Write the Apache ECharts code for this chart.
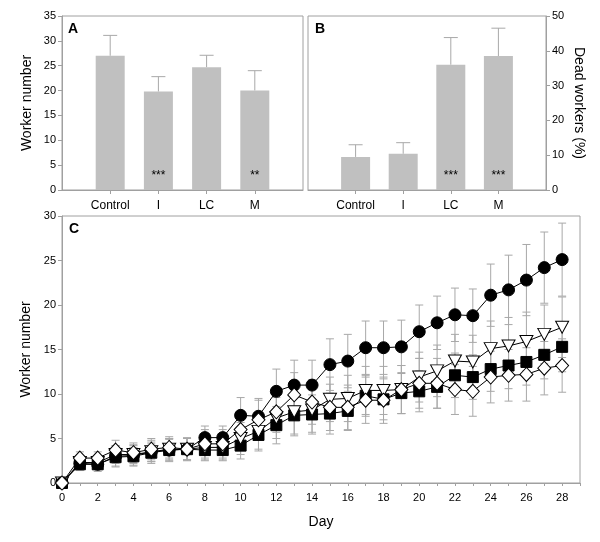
<!DOCTYPE html>
<html><head><meta charset="utf-8">
<script src="https://cdn.jsdelivr.net/npm/echarts@6/dist/echarts.min.js"></script>
<style>html,body{margin:0;padding:0;background:#fff}#c{width:600px;height:542px}</style>
</head><body><div id="c"></div>
<script>
// Panel A & B categories
var groups = ['', 'Control', 'I', 'LC', 'M', ''];
var workersA = ['-', 27.0, 19.8, 24.7, 20.0, '-'];
var workersAErrTop = ['-', 31.1, 22.8, 27.1, 24.0, '-'];
var starsA = ['', '', '***', '', '**', ''];
var deadB = ['-', 9.5, 10.4, 36.0, 38.5, '-'];
var deadBErrTop = ['-', 13.0, 13.6, 43.8, 46.5, '-'];
var starsB = ['', '', '', '***', '***', ''];

// Panel C
var days = [0,1,2,3,4,5,6,7,8,9,10,11,12,13,14,15,16,17,18,19,20,21,22,23,24,25,26,27,28];
var circleVals = [0,2.2,2.1,3.0,3.1,3.5,3.7,3.8,5.1,5.1,7.6,7.5,10.3,11.0,11.0,13.3,13.7,15.2,15.2,15.3,17.0,18.0,18.9,18.8,21.1,21.7,22.8,24.2,25.1];
var circleErr  = [0,0.8,0.8,1.2,1.2,1.3,1.3,1.3,1.3,1.3,2.0,2.0,2.5,2.8,2.8,2.9,3.0,3.0,3.0,3.0,3.0,3.0,3.0,3.0,3.5,3.9,4.0,4.0,4.1];
var triVals = [0,2.3,2.3,3.2,3.2,3.5,3.8,3.8,4.0,4.0,5.0,5.8,7.3,8.0,8.2,9.4,9.5,10.4,10.4,10.5,11.9,12.6,13.7,13.6,15.1,15.4,15.9,16.7,17.5];
var triErr  = [0,0.7,0.7,1.0,1.0,1.1,1.2,1.2,1.4,1.4,1.8,2.0,2.3,2.5,2.5,2.5,2.6,2.7,2.7,2.7,2.8,2.9,3.0,3.0,3.1,3.2,3.3,3.3,3.4];
var squareVals = [0,2.1,2.1,2.9,3.0,3.4,3.7,3.8,3.7,3.7,4.2,5.4,6.5,7.6,7.7,7.8,8.1,9.8,9.4,10.1,10.3,10.8,12.1,11.9,12.8,13.2,13.6,14.4,15.3];
var squareErr  = [0,0.6,0.6,1.0,1.0,1.0,1.2,1.2,1.2,1.2,1.5,1.8,2.1,2.3,2.2,2.3,2.2,2.3,2.3,2.3,2.3,2.4,2.5,2.5,2.5,2.6,2.6,2.7,2.8];
var diamondVals = [0,2.8,2.8,3.7,3.4,3.8,4.0,3.8,4.4,4.4,6.0,7.1,8.0,9.9,9.1,8.5,8.5,9.3,9.3,10.5,11.2,11.2,10.5,10.3,11.9,12.1,12.2,12.9,13.2];
var diamondErr  = [0,0.7,0.7,1.1,1.1,1.2,1.2,1.2,1.6,1.6,2.0,2.2,2.3,2.5,2.5,2.6,2.5,2.6,2.6,2.7,2.8,2.8,2.8,2.8,2.9,2.9,3.0,3.0,3.0];
var xTickLabelsC = [0,2,4,6,8,10,12,14,16,18,20,22,24,26,28];

var FONT = '"Liberation Sans", Arial, sans-serif';
var AX = '#a0a0a0';
var ERR = '#a8a8a8';
var BAR = '#c0c0c0';

function barErr(vals, tops) {
  return vals.map(function (v, i) { return v === '-' ? [i, null, null] : [i, v, tops[i]]; })
             .filter(function (d) { return d[1] !== null; });
}
function renderUpErr(params, api) {
  var x = api.value(0), y = api.value(1), t = api.value(2);
  var p0 = api.coord([x, y]); var p1 = api.coord([x, t]);
  var hw = 7;
  return { type: 'group', children: [
    { type: 'line', shape: { x1: p0[0], y1: p0[1], x2: p1[0], y2: p1[1] }, style: { stroke: ERR, lineWidth: 1 } },
    { type: 'line', shape: { x1: p1[0] - hw, y1: p1[1], x2: p1[0] + hw, y2: p1[1] }, style: { stroke: ERR, lineWidth: 1 } }
  ]};
}
function lineErrData(vals, errs) {
  return days.map(function (d, i) { return [d, vals[i] - errs[i], vals[i] + errs[i]]; })
             .filter(function (d, i) { return errs[i] > 0; });
}
function renderLineErr(params, api) {
  var x = api.value(0);
  var lo = api.coord([x, api.value(1)]); var hi = api.coord([x, api.value(2)]);
  var hw = 4;
  var st = { stroke: ERR, lineWidth: 1 };
  return { type: 'group', children: [
    { type: 'line', shape: { x1: lo[0], y1: lo[1], x2: hi[0], y2: hi[1] }, style: st },
    { type: 'line', shape: { x1: lo[0] - hw, y1: lo[1], x2: lo[0] + hw, y2: lo[1] }, style: st },
    { type: 'line', shape: { x1: hi[0] - hw, y1: hi[1], x2: hi[0] + hw, y2: hi[1] }, style: st }
  ]};
}

var catAxis = function (gi) {
  return {
    type: 'category', gridIndex: gi, data: groups, boundaryGap: false,
    axisLine: { lineStyle: { color: AX } },
    axisTick: { lineStyle: { color: AX }, length: 4, interval: function (i, v) { return v !== ''; } },
    axisLabel: { color: '#000', fontSize: 12, fontFamily: FONT, margin: 10, interval: 0 },
    splitLine: { show: false }
  };
};
var valStyle = {
  axisLine: { show: true, lineStyle: { color: AX } },
  axisTick: { show: true, lineStyle: { color: AX }, length: 4 },
  splitLine: { show: false },
  nameLocation: 'middle',
  nameTextStyle: { color: '#000', fontSize: 14, fontFamily: FONT }
};

var chart = echarts.init(document.getElementById('c'), null, { renderer: 'canvas' });
chart.setOption({
  animation: false,
  backgroundColor: '#fff',
  grid: [
    { left: 62, top: 16, width: 241, height: 174, show: true, borderColor: AX, borderWidth: 1 },
    { left: 308, top: 16, width: 238, height: 174, show: true, borderColor: AX, borderWidth: 1 },
    { left: 62, top: 216, width: 518, height: 267, show: true, borderColor: AX, borderWidth: 1 }
  ],
  xAxis: [
    catAxis(0),
    catAxis(1),
    Object.assign({}, valStyle, {
      type: 'value', gridIndex: 2, min: 0, max: 29, interval: 1, name: 'Day', nameGap: 32,
      axisTick: { show: true, lineStyle: { color: AX }, length: 3 },
      axisLabel: { color: '#000', fontSize: 11, fontFamily: FONT, margin: 9,
        formatter: function (v) { return xTickLabelsC.indexOf(v) >= 0 ? String(v) : ''; } }
    })
  ],
  yAxis: [
    Object.assign({}, valStyle, {
      type: 'value', gridIndex: 0, min: 0, max: 35, interval: 5, name: 'Worker number', nameGap: 28,
      axisLabel: { color: '#000', fontSize: 11, fontFamily: FONT, margin: 6 }
    }),
    Object.assign({}, valStyle, {
      type: 'value', gridIndex: 1, position: 'right', min: 0, max: 50, interval: 10,
      name: 'Dead workers (%)', nameGap: 26, nameRotate: -90,
      axisLabel: { color: '#000', fontSize: 11, fontFamily: FONT, margin: 6 }
    }),
    Object.assign({}, valStyle, {
      type: 'value', gridIndex: 2, min: 0, max: 30, interval: 5, name: 'Worker number', nameGap: 28,
      axisLabel: { color: '#000', fontSize: 11, fontFamily: FONT, margin: 6 }
    })
  ],
  graphic: [
    { type: 'text', left: 68, top: 22, style: { text: 'A', font: 'bold 14px ' + FONT, fill: '#000' } },
    { type: 'text', left: 315, top: 22, style: { text: 'B', font: 'bold 14px ' + FONT, fill: '#000' } },
    { type: 'text', left: 69, top: 222, style: { text: 'C', font: 'bold 14px ' + FONT, fill: '#000' } }
  ],
  series: [
    { type: 'custom', xAxisIndex: 0, yAxisIndex: 0, renderItem: renderUpErr, data: barErr(workersA, workersAErrTop), z: 1 },
    { type: 'bar', xAxisIndex: 0, yAxisIndex: 0, data: workersA, barWidth: 29, itemStyle: { color: BAR }, z: 2,
      label: { show: true, position: 'insideBottom', distance: 8, color: '#000', fontSize: 12, fontFamily: FONT,
        formatter: function (p) { return starsA[p.dataIndex]; } } },
    { type: 'custom', xAxisIndex: 1, yAxisIndex: 1, renderItem: renderUpErr, data: barErr(deadB, deadBErrTop), z: 1 },
    { type: 'bar', xAxisIndex: 1, yAxisIndex: 1, data: deadB, barWidth: 29, itemStyle: { color: BAR }, z: 2,
      label: { show: true, position: 'insideBottom', distance: 8, color: '#000', fontSize: 12, fontFamily: FONT,
        formatter: function (p) { return starsB[p.dataIndex]; } } },

    { type: 'custom', xAxisIndex: 2, yAxisIndex: 2, renderItem: renderLineErr, data: lineErrData(circleVals, circleErr), z: 1 },
    { type: 'custom', xAxisIndex: 2, yAxisIndex: 2, renderItem: renderLineErr, data: lineErrData(triVals, triErr), z: 1 },
    { type: 'custom', xAxisIndex: 2, yAxisIndex: 2, renderItem: renderLineErr, data: lineErrData(squareVals, squareErr), z: 1 },
    { type: 'custom', xAxisIndex: 2, yAxisIndex: 2, renderItem: renderLineErr, data: lineErrData(diamondVals, diamondErr), z: 1 },

    { type: 'line', xAxisIndex: 2, yAxisIndex: 2, data: days.map(function (d, i) { return [d, squareVals[i]]; }),
      symbol: 'rect', symbolSize: 11, lineStyle: { color: '#000', width: 1 }, itemStyle: { color: '#000', borderColor: '#000' }, z: 3 },
    { type: 'line', xAxisIndex: 2, yAxisIndex: 2, data: days.map(function (d, i) { return [d, triVals[i]]; }),
      symbol: 'triangle', symbolRotate: 180, symbolSize: [13, 12], lineStyle: { color: '#000', width: 1 },
      itemStyle: { color: '#fff', borderColor: '#000', borderWidth: 1 }, z: 4 },
    { type: 'line', xAxisIndex: 2, yAxisIndex: 2, data: days.map(function (d, i) { return [d, circleVals[i]]; }),
      symbol: 'circle', symbolSize: 12, lineStyle: { color: '#000', width: 1 }, itemStyle: { color: '#000', borderColor: '#000' }, z: 5 },
    { type: 'line', xAxisIndex: 2, yAxisIndex: 2, data: days.map(function (d, i) { return [d, diamondVals[i]]; }),
      symbol: 'diamond', symbolSize: [13, 14], lineStyle: { color: '#000', width: 1 },
      itemStyle: { color: '#fff', borderColor: '#000', borderWidth: 1 }, z: 6 }
  ]
});
</script>
</body></html>
